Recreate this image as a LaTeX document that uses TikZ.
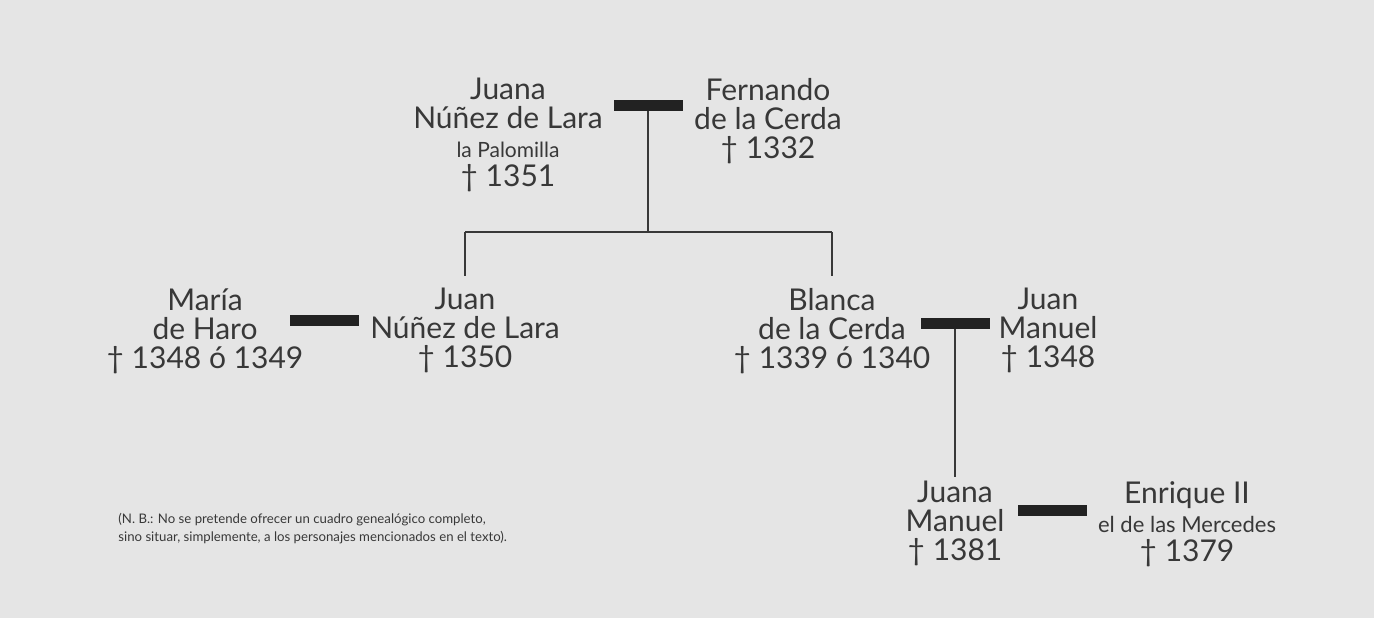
\documentclass[tikz,border=0pt]{standalone}
\usepackage{fontspec}
\setmainfont{Lato}
\usetikzlibrary{positioning}
\definecolor{paper}{HTML}{E5E5E5}
\definecolor{ink}{HTML}{383838}

\begin{document}
\begin{tikzpicture}[x=0.5pt,y=-0.5pt,
                    person/.style={align=center,text=ink,inner sep=0pt,anchor=north,
                                   font=\fontsize{15}{14.5}\selectfont},
                    bond/.style={fill=ink!60!black,inner sep=0pt,
                                 minimum width=34.5pt,minimum height=5.5pt},
                    line/.style={draw=ink,line width=0.9pt}]
  \fill[paper] (0,0) rectangle (1374,618);

  % first generation
  \node[person] (JuanaNL)  at (508,78) {Juana\\Núñez de Lara\\{\fontsize{10.5}{14.5}\selectfont la Palomilla}\\† 1351};
  \node[person] (Fernando) at (768,78) {Fernando\\de la Cerda\\† 1332};
  \node[bond]   (bondA)    at (648,105) {};

  % second generation
  \node[person] (Maria)    at (205,288) {María\\de Haro\\† 1348 ó 1349};
  \node[person] (JuanNL)   at (465,288) {Juan\\Núñez de Lara\\† 1350};
  \node[bond]   (bondB)    at (324,320) {};
  \node[person] (Blanca)   at (832,288) {Blanca\\de la Cerda\\† 1339 ó 1340};
  \node[person] (JuanM)    at (1048,288) {Juan\\Manuel\\† 1348};
  \node[bond]   (bondC)    at (955,323) {};

  % third generation
  \node[person] (JuanaM)   at (955,481) {Juana\\Manuel\\† 1381};
  \node[person] (Enrique)  at (1187,481) {Enrique II\\{\fontsize{11}{14.5}\selectfont el de las Mercedes}\\† 1379};
  \node[bond]   (bondD)    at (1052,510) {};

  \node[align=left,anchor=north west,text=ink,inner sep=0pt,
        font=\fontsize{6.6}{9}\selectfont] (note) at (118,513)
        {(N. B.: No se pretende ofrecer un cuadro genealógico completo,\\
         sino situar, simplemente, a los personajes mencionados en el texto).};

  \coordinate (fork) at (648,232);

  \path[line] (bondA.south) -- (fork);
  \path[line] (fork -| JuanNL) -- (fork -| Blanca);
  \path[line,shorten >=6pt] (fork -| JuanNL) -- (JuanNL.north);
  \path[line,shorten >=6pt] (fork -| Blanca) -- (Blanca.north);
  \path[line,shorten >=2pt] (bondC.south) -- (JuanaM.north);
\end{tikzpicture}
\end{document}
